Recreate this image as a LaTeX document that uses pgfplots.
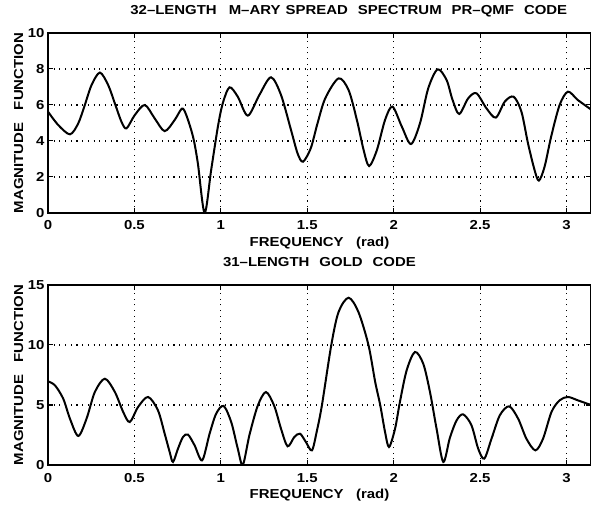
\documentclass[border=0pt]{standalone}
\usepackage{pgfplots}
\pgfplotsset{compat=1.18}
\usepackage{fontspec}
\setmainfont{Liberation Sans}[FakeStretch=1.15]
\newcommand{\lbl}{\fontsize{13}{15}\selectfont\bfseries}
\newcommand{\tkl}{\fontsize{13}{15}\selectfont\bfseries}
\begin{document}
\begin{tikzpicture}[x=1pt,y=1pt]
\useasboundingbox (0,0) rectangle (591,506);
\pgfplotsset{
  matlab/.style={
    scale only axis, width=543pt, height=180pt,
    anchor=south west,
    xmin=0, xmax=3.1416,
    xtick={0,0.5,1,1.5,2,2.5,3},
    grid=major,
    grid style={black, line width=1.1pt, dash pattern=on 1.1pt off 4.6pt},
    axis line style={black, line width=1.4pt},
    tick style={black, line width=1pt},
    major tick length=5pt,
    tick align=inside,
    ticklabel style={font=\tkl},
    /pgf/number format/assume math mode=true,
    xticklabel style={anchor=base, yshift=-17pt},
    label style={font=\lbl},
    xlabel={FREQUENCY\ \ \ (rad)},
    xlabel style={at={(axis description cs:0.5,0)}, anchor=base, yshift=-33.7pt},
    ylabel={MAGNITUDE\ \ \ FUNCTION},
    ylabel style={at={(axis description cs:-0.046,0.5)}, anchor=base, rotate=0},
    title style={font=\lbl, anchor=base, yshift=12.3pt},
  }
}
\begin{axis}[matlab, at={(48pt,293pt)},
  ymin=0, ymax=10, ytick={0,2,4,6,8,10},
  title={32--LENGTH\hspace{12pt}M--ARY\hspace{5pt}SPREAD\hspace{10pt}SPECTRUM\hspace{10pt}PR--QMF\hspace{10pt}CODE},
  title style={at={(axis description cs:0.554,1)}}]
\addplot[black, line width=2pt, smooth, tension=0.5] coordinates {
(0,5.63) (0.059,4.89) (0.127,4.37) (0.175,4.98) (0.213,6.0) (0.252,7.11)
(0.30,7.8) (0.348,7.11) (0.39,6.0) (0.425,5.07) (0.454,4.7) (0.502,5.44)
(0.56,6.0) (0.617,5.26) (0.675,4.55) (0.733,5.17) (0.775,5.8) (0.80,5.44)
(0.839,4.24) (0.867,2.76) (0.906,0) (0.944,2.39) (0.983,4.8) (1.011,6.09)
(1.05,6.98) (1.098,6.46) (1.156,5.41) (1.223,6.56) (1.29,7.54) (1.348,6.56)
(1.406,4.61) (1.444,3.31) (1.475,2.85) (1.52,3.59) (1.557,4.9) (1.604,6.37)
(1.681,7.48) (1.739,6.83) (1.787,5.17) (1.826,3.5) (1.858,2.61) (1.903,3.5)
(1.95,5.17) (1.993,5.91) (2.047,4.8) (2.1,3.83) (2.152,4.98) (2.2,6.93)
(2.254,7.98) (2.306,7.39) (2.34,6.3) (2.379,5.5) (2.431,6.37) (2.479,6.65)
(2.537,5.81) (2.591,5.3) (2.643,6.19) (2.694,6.46) (2.739,5.63) (2.777,3.87)
(2.815,2.39) (2.84,1.8) (2.873,2.57) (2.911,4.24) (2.96,6.0) (3.008,6.74)
(3.065,6.28) (3.1416,5.75)
};
\end{axis}
\begin{axis}[matlab, at={(48pt,41pt)},
  ymin=0, ymax=15, ytick={0,5,10,15},
  title={31--LENGTH\hspace{10pt}GOLD\hspace{10pt}CODE},
  title style={at={(axis description cs:0.5,1)}}]
\addplot[black, line width=2pt, smooth, tension=0.5] coordinates {
(0,6.97) (0.04,6.64) (0.088,5.53) (0.127,3.86) (0.175,2.42) (0.223,3.86)
(0.271,6.08) (0.329,7.19) (0.387,6.08) (0.435,4.42) (0.473,3.58) (0.521,4.83)
(0.579,5.67) (0.636,4.56) (0.675,2.61) (0.704,1.08) (0.723,0.25) (0.752,1.36)
(0.781,2.33) (0.81,2.53) (0.848,1.64) (0.892,0.39) (0.935,2.61) (0.973,4.28)
(1.016,4.92) (1.06,3.58) (1.098,1.36) (1.127,0) (1.165,2.47) (1.213,4.92)
(1.261,6.08) (1.309,4.92) (1.348,3.03) (1.386,1.56) (1.425,2.33) (1.458,2.61)
(1.492,1.92) (1.527,1.22) (1.555,2.8) (1.585,5.0) (1.639,10.0) (1.681,12.75)
(1.739,13.94) (1.796,12.75) (1.854,10.0) (1.893,6.92) (1.922,5.0) (1.95,2.75)
(1.973,1.5) (2.008,3.03) (2.036,5.25) (2.075,7.89) (2.123,9.42) (2.171,8.44)
(2.21,6.08) (2.248,3.03) (2.287,0.25) (2.325,2.26) (2.364,3.72) (2.402,4.22)
(2.45,3.31) (2.489,1.36) (2.524,0.53) (2.566,2.19) (2.614,4.14) (2.668,4.89)
(2.72,3.86) (2.768,2.19) (2.82,1.22) (2.864,2.19) (2.913,4.42) (2.96,5.39)
(3.008,5.67) (3.065,5.39) (3.1416,5.0)
};
\end{axis}
\end{tikzpicture}
\end{document}
